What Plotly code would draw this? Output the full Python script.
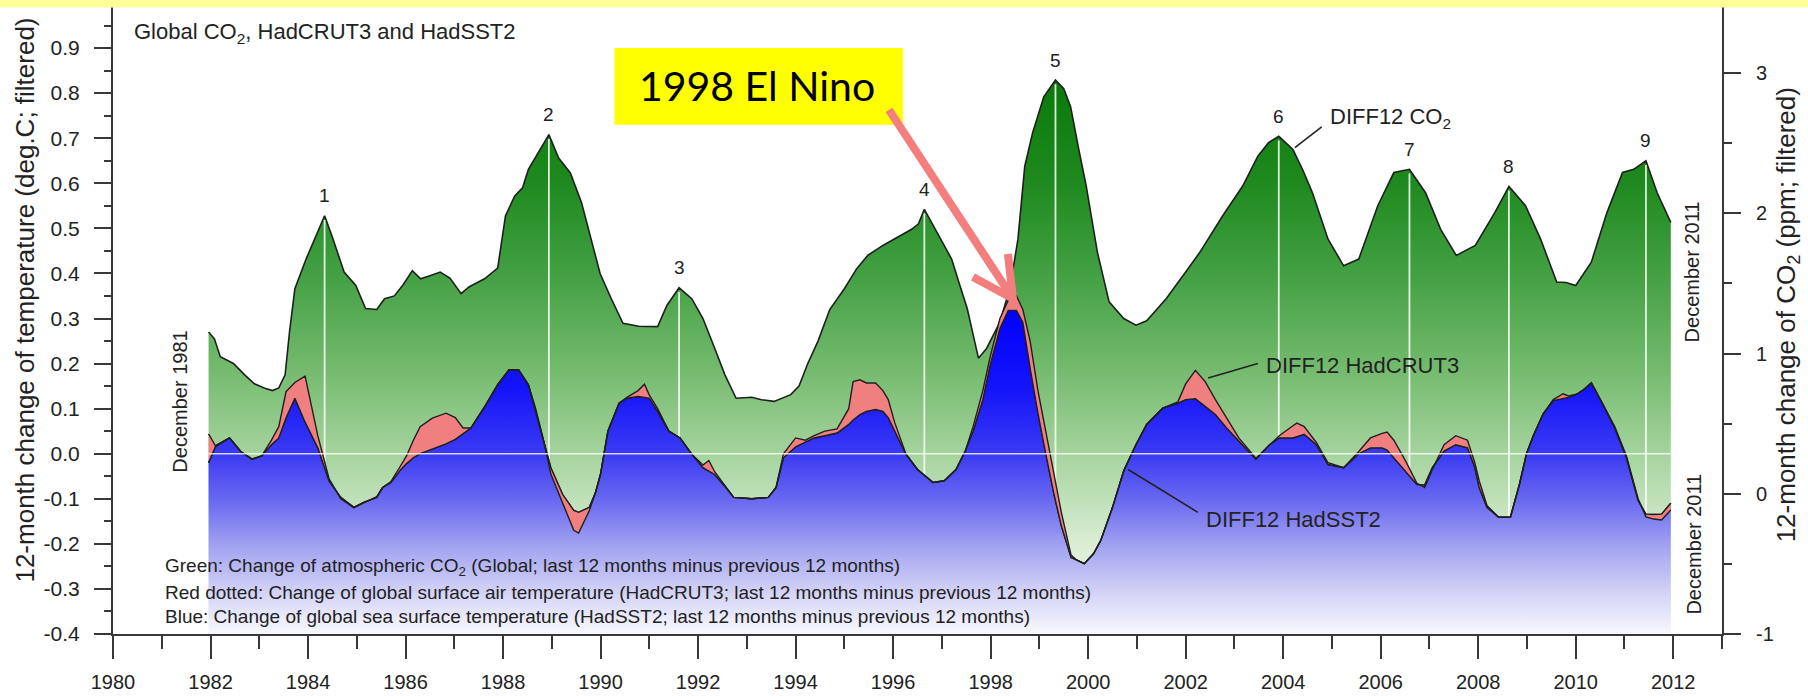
import numpy as np
import plotly.graph_objects as go

# ---------------- data ----------------
CO2_YEARS = [1981.96, 1982.08, 1982.2, 1982.47, 1982.7, 1982.9, 1983.1, 1983.27, 1983.4, 1983.53,
             1983.62, 1983.73, 1983.96, 1984.15, 1984.34, 1984.5, 1984.74, 1984.98, 1985.18, 1985.41,
             1985.57, 1985.77, 1985.95, 1986.14, 1986.31, 1986.5, 1986.71, 1986.91, 1987.14, 1987.3,
             1987.62, 1987.89, 1988.05, 1988.24, 1988.4, 1988.52, 1988.75, 1988.94, 1989.14, 1989.38,
             1989.61, 1989.8, 1989.99, 1990.22, 1990.46, 1990.78, 1991.17, 1991.36, 1991.61, 1991.87,
             1992.1, 1992.34, 1992.55, 1992.78, 1993.1, 1993.3, 1993.56, 1993.9, 1994.07, 1994.25,
             1994.46, 1994.7, 1995.0, 1995.25, 1995.48, 1995.79, 1996.18, 1996.38, 1996.52, 1996.64,
             1996.9, 1997.2, 1997.35, 1997.52, 1997.65, 1997.75, 1997.92, 1998.19, 1998.4, 1998.56,
             1998.7, 1998.86, 1999.09, 1999.33, 1999.5, 1999.64, 1999.8, 1999.96, 2000.19, 2000.43,
             2000.73, 2000.98, 2001.2, 2001.37, 2001.6, 2002.0, 2002.29, 2002.76, 2003.17, 2003.48,
             2003.7, 2003.91, 2004.2, 2004.4, 2004.6, 2004.92, 2005.24, 2005.55, 2005.94, 2006.27,
             2006.59, 2006.92, 2007.23, 2007.55, 2007.94, 2008.34, 2008.63, 2008.97, 2009.28, 2009.61,
             2009.8, 2010.0, 2010.32, 2010.64, 2010.96, 2011.19, 2011.44, 2011.67, 2011.95]
CO2_PPM = [1.154, 1.105, 0.977, 0.929, 0.848, 0.784, 0.755, 0.736, 0.755, 0.848,
           1.154, 1.462, 1.674, 1.829, 1.983, 1.829, 1.581, 1.485, 1.321, 1.314,
           1.391, 1.411, 1.491, 1.591, 1.533, 1.555, 1.581, 1.539, 1.427, 1.475,
           1.533, 1.610, 1.983, 2.124, 2.182, 2.314, 2.455, 2.561, 2.394, 2.288,
           2.076, 1.829, 1.571, 1.391, 1.215, 1.195, 1.192, 1.343, 1.469, 1.391,
           1.250, 1.038, 0.848, 0.681, 0.688, 0.671, 0.659, 0.707, 0.768, 0.929,
           1.089, 1.314, 1.462, 1.604, 1.700, 1.771, 1.851, 1.886, 1.925, 2.028,
           1.864, 1.674, 1.507, 1.321, 1.121, 0.967, 1.038, 1.224, 1.475, 1.816,
           2.336, 2.574, 2.831, 2.950, 2.889, 2.761, 2.471, 2.195, 1.722, 1.369,
           1.250, 1.202, 1.234, 1.298, 1.391, 1.581, 1.722, 1.983, 2.195, 2.407,
           2.504, 2.549, 2.455, 2.311, 2.147, 1.816, 1.626, 1.674, 2.054, 2.291,
           2.314, 2.147, 1.886, 1.700, 1.771, 2.005, 2.192, 2.054, 1.816, 1.510,
           1.507, 1.485, 1.652, 2.005, 2.291, 2.314, 2.375, 2.147, 1.935]

TEMP_YEARS = [1981.96, 1982.11, 1982.39, 1982.62, 1982.85, 1983.05, 1983.25, 1983.40, 1983.55, 1983.73,
              1983.94, 1984.08, 1984.20, 1984.43, 1984.67, 1984.94, 1985.14, 1985.41, 1985.53, 1985.70,
              1985.88, 1986.02, 1986.16, 1986.30, 1986.55, 1986.83, 1987.02, 1987.18, 1987.34, 1987.65,
              1987.89, 1988.12, 1988.32, 1988.52, 1988.67, 1988.83, 1988.98, 1989.22, 1989.45, 1989.55,
              1989.77, 1989.90, 1990.00, 1990.15, 1990.38, 1990.54, 1990.77, 1990.90, 1991.00, 1991.17,
              1991.40, 1991.63, 1991.87, 1992.10, 1992.22, 1992.34, 1992.57, 1992.73, 1993.10, 1993.44,
              1993.60, 1993.75, 1994.00, 1994.20, 1994.38, 1994.60, 1994.85, 1995.09, 1995.18, 1995.32,
              1995.45, 1995.64, 1995.79, 1995.90, 1996.03, 1996.26, 1996.50, 1996.82, 1997.05, 1997.29,
              1997.48, 1997.64, 1997.84, 1997.99, 1998.19, 1998.36, 1998.53, 1998.66, 1998.81, 1998.97,
              1999.13, 1999.30, 1999.45, 1999.65, 1999.75, 1999.92, 2000.11, 2000.26, 2000.50, 2000.73,
              2000.98, 2001.20, 2001.53, 2001.84, 2002.00, 2002.20, 2002.40, 2002.61, 2002.84, 2003.09,
              2003.44, 2003.72, 2003.92, 2004.20, 2004.28, 2004.43, 2004.68, 2004.92, 2005.24, 2005.55,
              2005.79, 2006.03, 2006.13, 2006.27, 2006.51, 2006.74, 2006.90, 2007.06, 2007.30, 2007.54,
              2007.78, 2007.93, 2008.02, 2008.18, 2008.42, 2008.66, 2008.85, 2008.99, 2009.13, 2009.33,
              2009.54, 2009.74, 2009.85, 2010.02, 2010.16, 2010.32, 2010.56, 2010.80, 2011.04, 2011.28,
              2011.44, 2011.60, 2011.76, 2011.95]
HADSST2 = [-0.020, 0.018, 0.035, 0.005, -0.012, -0.005, 0.020, 0.035, 0.080, 0.123,
           0.070, 0.040, 0.013, -0.060, -0.097, -0.119, -0.108, -0.097, -0.075, -0.064,
           -0.038, -0.022, -0.009, 0.000, 0.010, 0.022, 0.032, 0.045, 0.057, 0.109,
           0.153, 0.186, 0.186, 0.153, 0.094, 0.028, -0.031, -0.090, -0.126, -0.130,
           -0.119, -0.085, -0.045, 0.050, 0.112, 0.123, 0.127, 0.125, 0.123, 0.094,
           0.050, 0.035, -0.001, -0.031, -0.038, -0.046, -0.075, -0.097, -0.100, -0.097,
           -0.075, -0.009, 0.015, 0.025, 0.035, 0.040, 0.046, 0.065, 0.075, 0.087,
           0.094, 0.098, 0.094, 0.080, 0.050, -0.001, -0.035, -0.064, -0.060, -0.035,
           0.006, 0.050, 0.120, 0.197, 0.278, 0.318, 0.318, 0.292, 0.190, 0.090,
           0.000, -0.090, -0.160, -0.230, -0.235, -0.244, -0.222, -0.192, -0.119, -0.038,
           0.020, 0.065, 0.101, 0.112, 0.120, 0.122, 0.105, 0.087, 0.057, 0.028,
           -0.012, 0.020, 0.035, 0.035, 0.038, 0.043, 0.020, -0.024, -0.031, 0.000,
           0.013, 0.013, 0.008, -0.009, -0.038, -0.068, -0.070, -0.031, 0.006, 0.020,
           0.013, -0.030, -0.075, -0.119, -0.141, -0.141, -0.066, 0.000, 0.040, 0.088,
           0.118, 0.123, 0.125, 0.132, 0.142, 0.157, 0.109, 0.057, -0.009, -0.104,
           -0.134, -0.135, -0.134, -0.110]
HADCRUT3 = [0.044, 0.016, 0.035, 0.005, -0.012, -0.005, 0.030, 0.060, 0.138, 0.158,
            0.172, 0.100, 0.040, -0.055, -0.100, -0.120, -0.110, -0.095, -0.075, -0.062,
            -0.030, -0.005, 0.030, 0.060, 0.079, 0.090, 0.080, 0.057, 0.057, 0.109,
            0.153, 0.186, 0.186, 0.153, 0.100, 0.030, -0.045, -0.110, -0.170, -0.176,
            -0.126, -0.085, -0.045, 0.050, 0.112, 0.125, 0.140, 0.154, 0.130, 0.100,
            0.050, 0.035, -0.001, -0.025, -0.015, -0.040, -0.075, -0.097, -0.100, -0.097,
            -0.075, 0.000, 0.035, 0.030, 0.040, 0.050, 0.055, 0.100, 0.160, 0.164,
            0.157, 0.157, 0.140, 0.120, 0.070, 0.000, -0.035, -0.064, -0.060, -0.035,
            0.006, 0.060, 0.140, 0.215, 0.300, 0.340, 0.350, 0.320, 0.250, 0.140,
            0.050, -0.050, -0.130, -0.225, -0.235, -0.244, -0.222, -0.192, -0.119, -0.038,
            0.020, 0.065, 0.101, 0.115, 0.155, 0.185, 0.160, 0.120, 0.080, 0.035,
            -0.010, 0.020, 0.040, 0.062, 0.068, 0.060, 0.025, -0.020, -0.031, 0.005,
            0.035, 0.045, 0.048, 0.030, -0.016, -0.065, -0.075, -0.035, 0.020, 0.040,
            0.030, -0.020, -0.060, -0.115, -0.141, -0.141, -0.066, 0.000, 0.040, 0.088,
            0.120, 0.133, 0.128, 0.132, 0.142, 0.157, 0.109, 0.060, -0.005, -0.100,
            -0.140, -0.145, -0.147, -0.125]
assert len(TEMP_YEARS) == len(HADSST2) == len(HADCRUT3)
assert len(CO2_YEARS) == len(CO2_PPM)

PEAK_YEARS = [1984.34, 1988.94, 1991.61, 1996.64, 1999.33, 2003.91, 2006.59, 2008.63, 2011.44]
PEAK_LABELS = ["1", "2", "3", "4", "5", "6", "7", "8", "9"]

X_RANGE = [1980, 2013]
X_TICKS = [1980, 1982, 1984, 1986, 1988, 1990, 1992, 1994, 1996, 1998, 2000, 2002, 2004, 2006, 2008, 2010, 2012]
X_TICK_LABELS = [str(v) for v in X_TICKS]
X_MINOR = [1981, 1983, 1985, 1987, 1989, 1991, 1993, 1995, 1997, 1999, 2001, 2003, 2005, 2007, 2009, 2011, 2013]

T_RANGE = [-0.4, 1.0]
T_TICKS = [-0.4, -0.3, -0.2, -0.1, 0.0, 0.1, 0.2, 0.3, 0.4, 0.5, 0.6, 0.7, 0.8, 0.9, 1.0]
T_TICK_LABELS = ["-0.4", "-0.3", "-0.2", "-0.1", "0.0", "0.1", "0.2", "0.3", "0.4", "0.5",
                 "0.6", "0.7", "0.8", "0.9", "1.0"]
T_MINOR = [-0.35, -0.25, -0.15, -0.05, 0.05, 0.15, 0.25, 0.35, 0.45, 0.55, 0.65, 0.75, 0.85, 0.95]

C_RANGE = [-1.0, 3.5]
C_TICKS = [-1, 0, 1, 2, 3]
C_TICK_LABELS = ["-1", "0", "1", "2", "3"]
C_MINOR = [-0.5, 0.5, 1.5, 2.5, 3.5]

# ---------------- styling ----------------
FONT = "Liberation Sans, Arial, sans-serif"
AX = "#383838"
OUTLINE = "#1f1f1f"
GREEN_SCALE = [[0.0, "#f4faf2"], [0.161, "#dbeed5"], [0.322, "#a6d49e"], [0.482, "#72b96c"],
               [0.643, "#43a043"], [0.804, "#1f8a1f"], [1.0, "#087808"]]
BLUE_SCALE = [[0.0, "#fbfbff"], [0.137, "#d2d2f6"], [0.274, "#a2a2f1"], [0.411, "#6a6af1"],
              [0.548, "#3c3cf3"], [0.753, "#1414fa"], [1.0, "#0000ff"]]

fig = go.Figure()

# green CO2 area (CO2 axis = 'y', right side)
fig.add_trace(go.Scatter(x=CO2_YEARS, y=[C_RANGE[0]] * len(CO2_YEARS), yaxis="y", mode="lines",
                         line=dict(width=0), hoverinfo="skip", showlegend=False))
fig.add_trace(go.Scatter(x=CO2_YEARS, y=CO2_PPM, yaxis="y", mode="lines",
                         line=dict(color=OUTLINE, width=1.6), fill="tonexty",
                         fillgradient=dict(type="vertical", colorscale=GREEN_SCALE,
                                           start=C_RANGE[0], stop=3.0),
                         hoverinfo="skip", showlegend=False))
# white vertical lines at the numbered CO2 peaks
peak_vals = np.interp(PEAK_YEARS, CO2_YEARS, CO2_PPM)
vx, vy = [], []
for p, v in zip(PEAK_YEARS, peak_vals):
    vx += [p, p, None]
    vy += [v - 0.03, C_RANGE[0], None]
fig.add_trace(go.Scatter(x=vx, y=vy, yaxis="y", mode="lines",
                         line=dict(color="rgba(255,255,255,0.85)", width=1.8),
                         hoverinfo="skip", showlegend=False))

# temperature (axis 'y2', left side, overlaying)
fig.add_trace(go.Scatter(x=TEMP_YEARS, y=[T_RANGE[0]] * len(TEMP_YEARS), yaxis="y2", mode="lines",
                         line=dict(width=0), hoverinfo="skip", showlegend=False))
fig.add_trace(go.Scatter(x=TEMP_YEARS, y=HADSST2, yaxis="y2", mode="lines",
                         line=dict(color=OUTLINE, width=1.4), fill="tonexty",
                         fillgradient=dict(type="vertical", colorscale=BLUE_SCALE,
                                           start=T_RANGE[0], stop=0.33),
                         hoverinfo="skip", showlegend=False))
fig.add_trace(go.Scatter(x=TEMP_YEARS, y=HADSST2, yaxis="y2", mode="lines",
                         line=dict(width=0), hoverinfo="skip", showlegend=False))
fig.add_trace(go.Scatter(x=TEMP_YEARS, y=HADCRUT3, yaxis="y2", mode="lines",
                         line=dict(color=OUTLINE, width=1.4), fill="tonexty",
                         fillcolor="#f08080", hoverinfo="skip", showlegend=False))
fig.add_trace(go.Scatter(x=TEMP_YEARS, y=HADSST2, yaxis="y2", mode="lines",
                         line=dict(color=OUTLINE, width=1.4), hoverinfo="skip", showlegend=False))

annotations = []


def txt(x, y, text, size=20, yref="y2", xanchor="center", **kw):
    d = dict(x=x, y=y, xref="x", yref=yref, text=text, showarrow=False, xanchor=xanchor,
             yanchor="middle", font=dict(family=FONT, size=size, color="#222"))
    d.update(kw)
    annotations.append(d)


txt(1980.39, 0.933, "Global CO<sub>2</sub>, HadCRUT3 and HadSST2", 22, xanchor="left")
for p, v, lab in zip(PEAK_YEARS, peak_vals, PEAK_LABELS):
    txt(p, v, lab, 19, yref="y", yshift=20)
txt(2004.92, 0.745, "DIFF12 CO<sub>2</sub>", 22, xanchor="left")
txt(2003.60, 0.196, "DIFF12 HadCRUT3", 22, xanchor="left")
txt(2002.37, -0.146, "DIFF12 HadSST2", 22, xanchor="left")
txt(1981.37, 0.115, "December 1981", 20, textangle=-90)
txt(2012.38, 0.404, "December 2011", 20, textangle=-90)
txt(2012.42, -0.200, "December 2011", 20, textangle=-90)
txt(1981.02, -0.251, "Green: Change of atmospheric CO<sub>2</sub> (Global; last 12 months minus previous 12 months)", 19, xanchor="left")
txt(1981.02, -0.307, "Red dotted: Change of global surface air temperature (HadCRUT3; last 12 months minus previous 12 months)", 19, xanchor="left")
txt(1981.02, -0.362, "Blue: Change of global sea surface temperature (HadSST2; last 12 months minus previous 12 months)", 19, xanchor="left")
annotations.append(dict(x=1993.21, y=0.816, xref="x", yref="y2", text="1998 El Nino", showarrow=False,
                        xanchor="center", yanchor="middle",
                        font=dict(family="Lato, Liberation Sans, sans-serif", size=41, color="#000")))
annotations.append(dict(x=-0.0547, y=0.530, xref="paper", yref="paper", showarrow=False, textangle=-90,
                        xanchor="center", yanchor="middle",
                        text="12-month change of temperature (deg.C; filtered)",
                        font=dict(family=FONT, size=26, color="#222")))
annotations.append(dict(x=1.0404, y=0.505, xref="paper", yref="paper", showarrow=False, textangle=-90,
                        xanchor="center", yanchor="middle",
                        text="12-month change of CO<sub>2</sub> (ppm; filtered)",
                        font=dict(family=FONT, size=26, color="#222")))

shapes = [
    # white zero line across the data span
    dict(type="line", xref="x", yref="y2", x0=TEMP_YEARS[0], x1=TEMP_YEARS[-1], y0=0, y1=0,
         line=dict(color="rgba(255,255,255,0.8)", width=1.6), layer="above"),
    # leader lines
    dict(type="line", xref="x", yref="y2", x0=2004.24, y0=0.679, x1=2004.79, y1=0.725,
         line=dict(color="#222", width=1.6), layer="above"),
    dict(type="line", xref="x", yref="y2", x0=2002.46, y0=0.168, x1=2003.48, y1=0.200,
         line=dict(color="#222", width=1.6), layer="above"),
    dict(type="line", xref="x", yref="y2", x0=2000.82, y0=-0.035, x1=2002.25, y1=-0.130,
         line=dict(color="#222", width=1.6), layer="above"),
    # yellow callout box
    dict(type="rect", xref="x", yref="y2", x0=1990.285, x1=1996.2, y0=0.73, y1=0.90,
         fillcolor="#ffff00", line=dict(width=0), layer="above"),
    # callout arrow
    dict(type="path", xref="x", yref="y2",
         path="M 1995.915,0.763 L 1998.457,0.344 M 1998.355,0.443 L 1998.457,0.344 L 1997.637,0.392",
         line=dict(color="#f47e7e", width=8), layer="above"),
    # pale yellow band at the top of the picture
    dict(type="rect", xref="paper", yref="paper", x0=-0.08, x1=1.07, y0=0.9929, y1=1.02,
         fillcolor="#ffff99", line=dict(width=0), layer="above"),
]

fig.update_layout(
    width=1808, height=696,
    margin=dict(l=113, r=86, t=3, b=59),
    paper_bgcolor="white", plot_bgcolor="white",
    showlegend=False, hovermode=False,
    font=dict(family=FONT, size=20, color="#222"),
    xaxis=dict(range=X_RANGE, showgrid=False, zeroline=False, showline=True, linecolor=AX, linewidth=2,
               ticks="outside", ticklen=23, tickwidth=2, tickcolor=AX,
               tickmode="array", tickvals=X_TICKS, ticktext=X_TICK_LABELS,
               tickfont=dict(size=20, color="#222"), ticklabelstandoff=6,
               minor=dict(tickmode="array", tickvals=X_MINOR, ticks="outside", ticklen=13,
                          tickwidth=2, tickcolor=AX)),
    yaxis=dict(range=C_RANGE, side="right", anchor="x", showgrid=False, zeroline=False,
               showline=True, linecolor=AX, linewidth=2,
               ticks="outside", ticklen=17, tickwidth=2, tickcolor=AX,
               tickmode="array", tickvals=C_TICKS, ticktext=C_TICK_LABELS,
               tickfont=dict(size=20, color="#222"), ticklabelstandoff=11,
               minor=dict(tickmode="array", tickvals=C_MINOR, ticks="outside", ticklen=8,
                          tickwidth=2, tickcolor=AX)),
    yaxis2=dict(range=T_RANGE, side="left", overlaying="y", anchor="x", showgrid=False, zeroline=False,
                showline=True, linecolor=AX, linewidth=2,
                ticks="outside", ticklen=17, tickwidth=2, tickcolor=AX,
                tickmode="array", tickvals=T_TICKS, ticktext=T_TICK_LABELS,
                tickfont=dict(size=21, color="#222"), ticklabelstandoff=10,
                minor=dict(tickmode="array", tickvals=T_MINOR, ticks="outside", ticklen=7,
                           tickwidth=2, tickcolor=AX)),
    annotations=annotations,
    shapes=shapes,
)

fig.write_html("out.html", config={"responsive": False, "displayModeBar": False},
               post_script="document.body.style.margin='0px';document.body.style.padding='0px';"
                           "document.body.style.overflow='hidden';")
